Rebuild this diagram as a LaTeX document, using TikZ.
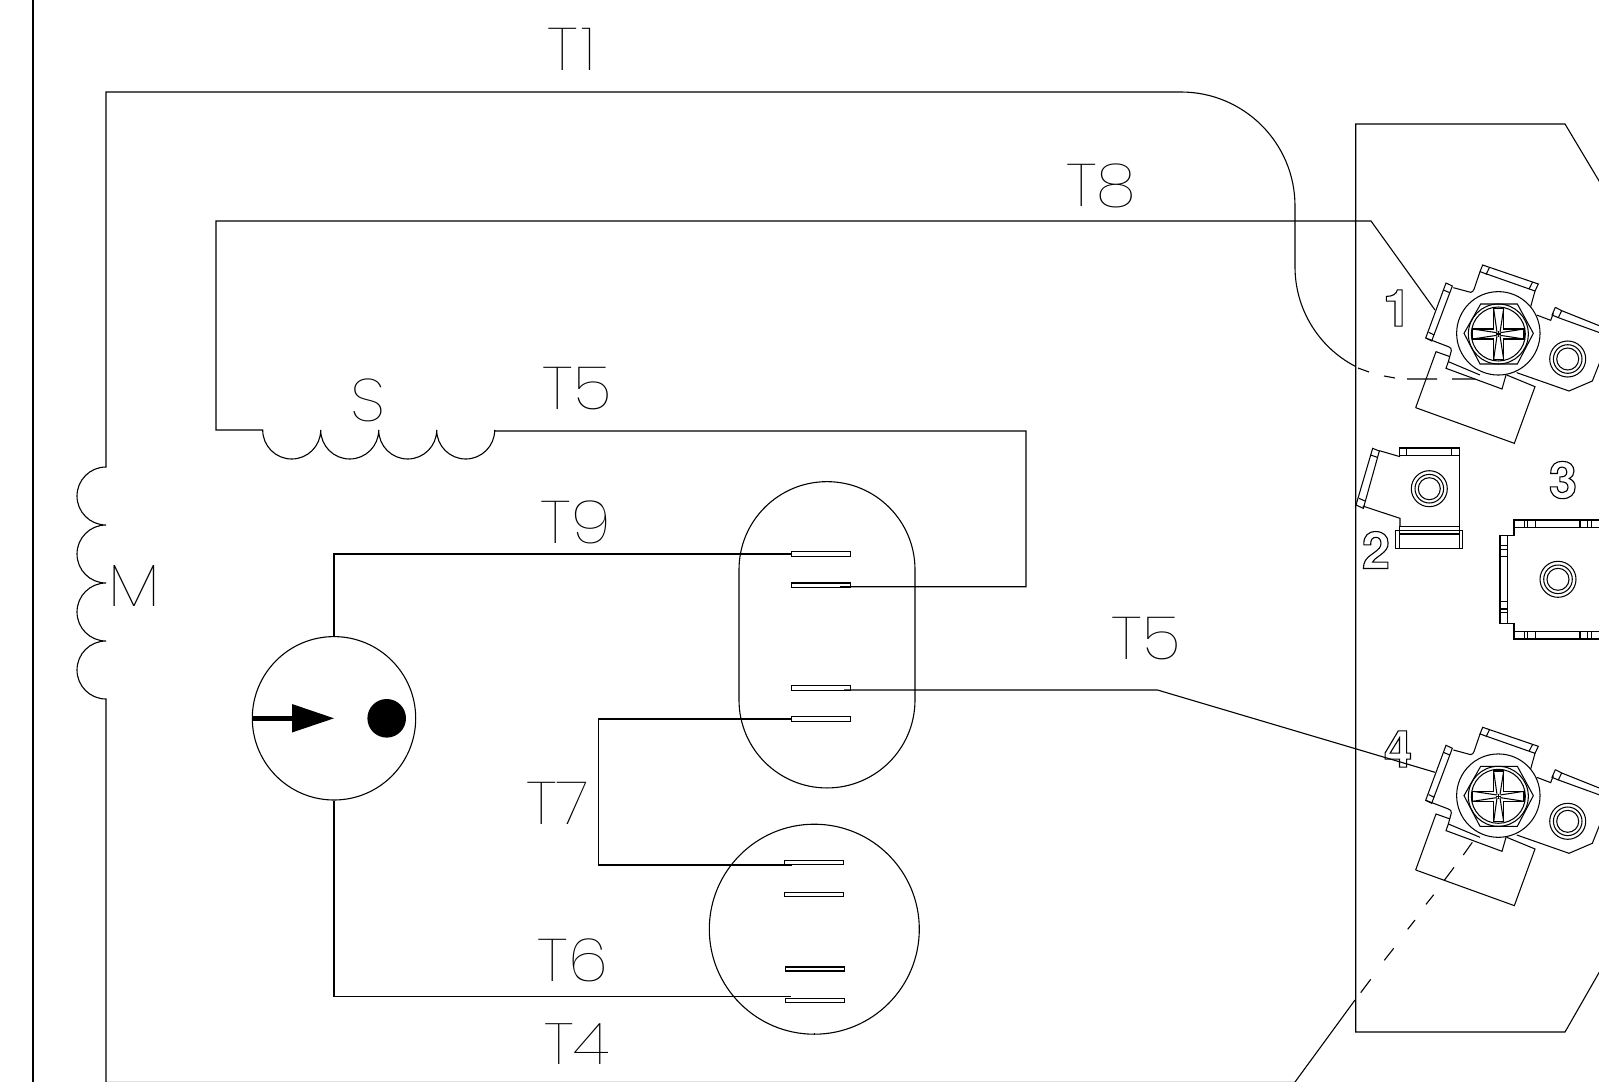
\documentclass[tikz,border=0pt]{standalone}
\usepackage{fontspec}
\setmainfont{Poppins Thin}[FakeStretch=1.08]
\newfontfamily\numfont{TeX Gyre Heros}
\tikzset{
  wire/.style={line width=1.1pt,line join=miter},
  thin part/.style={line width=1.05pt,line join=miter},
  lbl/.style={inner sep=0pt,font=\fontsize{60}{60}\selectfont},
  num/.style={inner sep=0pt,font=\numfont\bfseries\fontsize{51}{51}\selectfont},
  pin/.style={draw,line width=1.1pt,fill=white,inner sep=0pt},
}
\newcommand{\outl}[1]{\special{pdf:code q 1 Tr 1.1 w}#1\special{pdf:code Q}}
\newcommand{\smallring}[1]{%
  \draw[thin part] #1 circle[radius=18pt] #1 circle[radius=14.3pt] #1 circle[radius=11pt];}
\newcommand{\screwterm}[1]{%
\begin{scope}[shift={(1340,#1)},x=0.33333pt,y=-0.33333pt,thin part]
  \draw (227,923)--(288,755)--(330,770);
  \draw (227,923)--(523,1030)--(585,860)--(500,825);
  \draw (340,563)--(392,577) to[out=0,in=240] (402,568)--(420,515);
  \draw (318,549)--(337,558)--(275,723)--(257,714)--cycle;
  \draw (310,570)--(329,578) (266,697)--(283,705);
  \draw (257,714)--(325,740) to[out=-20,in=70] (334,752)--(325,785);
  \draw (325,785)--(318,805)--(486,867)--(498,825);
  \draw (325,785)--(420,825);
  \draw (428,495)--(595,552)--(585,573)--(420,515)--cycle;
  \draw (448,503)--(438,524) (578,546)--(567,567);
  \draw (585,573)--(572,620);
  \draw (590,645)--(632,661)--(640,640);
  \draw (646,622)--(665,632)--(790,682);
  \draw (646,622)--(636,645)--(655,653)--(790,702);
  \draw (665,632)--(655,653);
  \draw (790,760)--(757,843)--(687,873)--(530,818);
  \draw[fill=white] (475,700) circle[radius=41.7pt];
  \draw (372,700)--(422,612)--(532,612)--(580,700)--(532,792)--(420,792)--cycle;
  \draw (475,702) circle[radius=30pt] (475,702) circle[radius=27pt];
  % cross recess: heavy outline
  \draw[line width=1.3pt] (461,626)--(461,687)--(398,687)--(398,717)--(461,717)--(461,778)
     --(491,778)--(491,717)--(552,717)--(552,687)--(491,687)--(491,626)--cycle;
  % tapers towards the centre
  \draw (461,626)--(471,697) (491,626)--(480,697) (461,778)--(471,707) (491,778)--(480,707);
  \draw (398,687)--(470,698) (398,717)--(470,706) (552,687)--(481,698) (552,717)--(481,706);
  \draw (467,702)--(484,702) (475.5,694)--(475.5,710);
\end{scope}
\smallring{(1567.7,#1+259)}}
\begin{document}
\begin{tikzpicture}[x=1pt,y=-1pt]
\useasboundingbox (0,0) rectangle (1599,1082);
\clip (0,0) rectangle (1599,1082);
\fill[white] (0,0) rectangle (1599,1082);

% frame
\coordinate (frameT) at (33,0);
\coordinate (frameB) at (33,1082);
\draw[wire] (frameT)--(frameB);
\coordinate (baseL) at (106,1081.5);
\coordinate (baseR) at (1295,1081.5);
\draw[line width=1pt,black!12] (baseL)--(baseR);
\coordinate (t1base) at (106,1082);

% panel
\coordinate (panelTR) at (1565,124);
\coordinate (panelBR) at (1565,1032);
\draw[wire] (1620,216)--(panelTR)--(1355.7,124)--(1355.7,1032)--(panelBR)--(1620,936);

% pins and bodies
\node[draw,wire,rounded corners=88pt,minimum width=176pt,minimum height=306.3pt,inner sep=0pt] (plug) at (827,634.8) {};
\node[draw,circle,wire,minimum size=210pt,inner sep=0pt] (disc) at (814.3,929.2) {};
\draw[wire] (disc.south) -- ++(0,-2);
\node[draw,circle,wire,minimum size=163.4pt,inner sep=0pt] (comp) at (334,718.3) {};
\node[pin,minimum width=58.6pt,minimum height=4.6pt] (pinA) at (821,554) {};
\node[pin,minimum width=58.6pt,minimum height=4.6pt] (pinB) at (821,585.3) {};
\node[pin,minimum width=58.6pt,minimum height=4.6pt] (pinC) at (821,687.8) {};
\node[pin,minimum width=58.6pt,minimum height=4.6pt] (pinD) at (821,719) {};
\node[pin,minimum width=59pt,minimum height=4pt] (pinE) at (814,862.8) {};
\node[pin,minimum width=59pt,minimum height=4pt] (pinF) at (814,894.8) {};
\node[pin,minimum width=59pt,minimum height=4pt] (pinG) at (815.3,969) {};
\node[pin,minimum width=59pt,minimum height=4pt] (pinH) at (815.3,1000.5) {};

% T1 with coil M
\draw[wire] (t1base)--(106,699)
  arc[start angle=270,end angle=90,radius=29pt]
  arc[start angle=270,end angle=90,radius=29pt]
  arc[start angle=270,end angle=90,radius=29pt]
  arc[start angle=270,end angle=90,radius=29pt]
  --(106,92)--(1181,92)
  arc[start angle=90,end angle=0,radius=114pt]
  --(1295,267)
  arc[start angle=180,end angle=242.3,radius=112pt];
\coordinate (d1) at (1358,368); \coordinate (d2) at (1369,372);
\coordinate (d3) at (1384,376); \coordinate (d4) at (1395,378);
\coordinate (d5) at (1407,379); \coordinate (d6) at (1437,379);
\coordinate (d7) at (1452,379); \coordinate (d8) at (1475,379);
\draw[wire] (d1)--(d2) (d3)--(d4) (d5)--(d6) (d7)--(d8);

% T8 with coil S, T5
\coordinate (t8end) at (1435,310);
\coordinate (t5a) at (840,586.7);
\draw[wire] (t8end)--(1371,221)--(216,221)--(216,430)--(262.7,430)
  arc[start angle=180,end angle=360,radius=29pt]
  arc[start angle=180,end angle=360,radius=29pt]
  arc[start angle=180,end angle=360,radius=29pt]
  arc[start angle=180,end angle=360,radius=29pt]
  --(494.7,431)--(1026,431)--(1026,586.7)--(t5a);

% other wires
\draw[wire] (pinA.west)-|(comp.north);
\coordinate (t6end) at (790.7,996.7);
\draw[wire] (comp.south)|-(t6end);
\coordinate (t7end) at (791.7,865);
\draw[wire] (pinD.west)--(598.6,719)--(598.6,865)--(t7end);
\coordinate (t5end) at (1435,772.3);
\coordinate (t5b) at (844,690);
\draw[wire] (t5b)--(1157.5,690)--(t5end);

% meter arrow and dot
\fill (252.3,716)rectangle(292,720.6);
\fill (292,704)--(334,718.3)--(292,732.5)--cycle;
\node[circle,fill=black,minimum size=38.6pt,inner sep=0pt] (dot) at (386.7,718.3) {};

% dashed run to terminal 4
\coordinate (e1) at (1472.3,842.3); \coordinate (e2) at (1463.3,855);
\coordinate (e3) at (1454,867.3); \coordinate (e4) at (1444,880.7);
\coordinate (e5) at (1433.7,894.7); \coordinate (e6) at (1426,904.3);
\coordinate (e7) at (1415,920); \coordinate (e8) at (1407.7,929.3);
\coordinate (e9) at (1393.7,948.3); \coordinate (e10) at (1384.3,960.3);
\coordinate (e11) at (1370.7,979.3); \coordinate (e12) at (1360.7,992.7);
\coordinate (e13) at (1355,1000); \coordinate (e14) at (1295,1082);

% screw terminals
\screwterm{100}
\screwterm{562.3}
\draw[wire] (e1)--(e2) (e3)--(e4) (e5)--(e6) (e7)--(e8) (e9)--(e10) (e11)--(e12) (e13)--(e14);

% terminal 2
\begin{scope}[shift={(1340,430)},x=0.33333pt,y=-0.33333pt,thin part]
  \draw (98,55)--(118,63)--(70,235)--(48,225)--cycle;
  \draw (92,75)--(112,82) (57,205)--(75,213);
  \draw (118,62)--(180,80) (68,228)--(180,265)--(180,290);
  \draw (178,54) rectangle (358,77);
  \draw (200,54)--(200,77) (335,54)--(335,77);
  \draw (358,77)--(358,290) (178,290)--(358,290);
  \draw (167,302) rectangle (368,355);
  \draw (178,290)--(178,355) (358,290)--(358,355) (178,312)--(358,312);
\end{scope}
\smallring{(1429.3,488.7)}

% terminal 3
\begin{scope}[shift={(1340,430)},x=0.33333pt,y=-0.33333pt,thin part]
  \draw (800,270)--(522,270)--(522,292)--(800,292);
  \draw (800,605)--(522,605)--(522,627)--(800,627);
  \foreach \xx in {553,563,587,720,743,755} {\draw (\xx,270)--(\xx,292) (\xx,605)--(\xx,627);}
  \draw (522,292)--(522,317)--(480,317)--(480,580)--(522,580)--(522,605);
  \draw (503,317)--(503,580);
  \foreach \yy in {347,358,380,515,537,548} {\draw (480,\yy)--(503,\yy);}
\end{scope}
\smallring{(1558,579.3)}

% labels
\node[lbl] (lT1) at (572,49) {T\kern4pt 1};
\node[lbl] (lT8) at (1101,186) {T8};
\node[lbl] (lT5a) at (577,389) {T5};
\node[lbl] (lS) at (368,400) {S};
\node[lbl] (lM) at (134,586) {M};
\node[lbl] (lT9) at (576,522) {T9};
\node[lbl] (lT5b) at (1146,639) {T5};
\node[lbl] (lT7) at (558,803) {T7};
\node[lbl] (lT6) at (573,960) {T6};
\node[lbl,font=\fontsize{58}{58}\selectfont] (lT4) at (577,1044) {T4};
\node[num] (n1) at (1397,308) {\outl{1}};
\node[num] (n2) at (1376,550) {\outl{2}};
\node[num] (n3) at (1563,480) {\outl{3}};
\node[num] (n4) at (1398,749) {\outl{4}};
\end{tikzpicture}
\end{document}
